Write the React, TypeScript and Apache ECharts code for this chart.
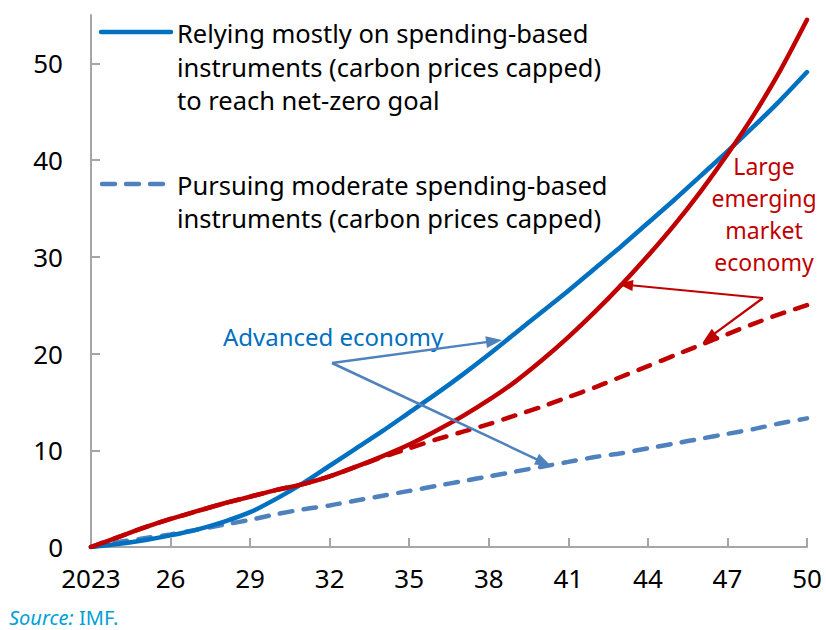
import React, { useEffect, useRef } from "react";
import * as echarts from "echarts";

const years = [
  "2023", "2024", "2025", "2026", "2027", "2028", "2029", "2030", "2031", "2032",
  "2033", "2034", "2035", "2036", "2037", "2038", "2039", "2040", "2041", "2042",
  "2043", "2044", "2045", "2046", "2047", "2048", "2049", "2050",
];

// Advanced economy – relying mostly on spending-based instruments
const aeMostly = [
  0, 0.3, 0.7, 1.2, 1.8, 2.6, 3.6, 5.0, 6.6, 8.4,
  10.2, 12.0, 13.9, 15.8, 17.8, 19.9, 22.1, 24.3, 26.5, 28.8,
  31.1, 33.5, 35.9, 38.4, 40.9, 43.5, 46.2, 49.1,
];
// Advanced economy – pursuing moderate spending-based instruments
const aeModerate = [
  0, 0.5, 0.9, 1.3, 1.8, 2.3, 2.8, 3.4, 3.9, 4.3,
  4.8, 5.3, 5.8, 6.3, 6.8, 7.3, 7.8, 8.3, 8.8, 9.3,
  9.7, 10.2, 10.7, 11.2, 11.7, 12.2, 12.8, 13.3,
];
// Large emerging market economy – relying mostly
const emMostly = [
  0, 1.0, 2.0, 2.9, 3.7, 4.5, 5.2, 5.9, 6.5, 7.3,
  8.3, 9.4, 10.6, 12.0, 13.5, 15.2, 17.1, 19.3, 21.7, 24.3,
  27.1, 30.1, 33.3, 36.8, 40.6, 44.7, 49.3, 54.5,
];
// Large emerging market economy – pursuing moderate
const emModerate = [
  0, 1.0, 2.0, 2.9, 3.7, 4.5, 5.2, 5.9, 6.5, 7.3,
  8.3, 9.3, 10.2, 11.1, 11.9, 12.7, 13.6, 14.5, 15.5, 16.5,
  17.6, 18.7, 19.8, 20.9, 22.0, 23.1, 24.1, 25.0,
];

const yTicks = [0, 10, 20, 30, 40, 50];

const legendMostly = [
  "Relying mostly on spending-based",
  "instruments (carbon prices capped)",
  "to reach net-zero goal",
];
const legendModerate = [
  "Pursuing moderate spending-based",
  "instruments (carbon prices capped)",
];
const emLabel = ["Large", "emerging", "market", "economy"];

const BLUE = "#0070C0";
const BLUE_D = "#4F81BD";
const RED = "#C00000";
const FONT = "'Noto Sans', 'Open Sans', sans-serif";

function arrow(x1: number, y1: number, x2: number, y2: number, color: string, width: number, headLen: number, headW: number) {
  const dx = x2 - x1;
  const dy = y2 - y1;
  const L = Math.hypot(dx, dy);
  const ux = dx / L;
  const uy = dy / L;
  const bx = x2 - ux * headLen;
  const by = y2 - uy * headLen;
  const px = -uy;
  const py = ux;
  return [
    { type: "line", silent: true, z: 100, shape: { x1, y1, x2: bx + ux * 2, y2: by + uy * 2 }, style: { stroke: color, lineWidth: width } },
    {
      type: "polygon",
      silent: true,
      z: 100,
      shape: {
        points: [
          [x2, y2],
          [bx + (px * headW) / 2, by + (py * headW) / 2],
          [bx - (px * headW) / 2, by - (py * headW) / 2],
        ],
      },
      style: { fill: color },
    },
  ];
}

export default function App() {
  const ref = useRef<HTMLDivElement>(null);
  useEffect(() => {
    if (!ref.current) return;
    const chart = echarts.init(ref.current, undefined, { renderer: "svg" });

    const graphics: any[] = [];
    // legend
    graphics.push({
      type: "line", silent: true, z: 100,
      shape: { x1: 101, y1: 32, x2: 171, y2: 32 },
      style: { stroke: BLUE, lineWidth: 4.5, lineCap: "round" },
    });
    legendMostly.forEach((t, i) => {
      graphics.push({
        type: "text", silent: true, z: 100,
        x: 177, y: 33 + i * 33.5,
        style: { text: t, fill: "#000", font: `25.5px ${FONT}`, textVerticalAlign: "middle" },
      });
    });
    graphics.push({
      type: "line", silent: true, z: 100,
      shape: { x1: 102, y1: 184, x2: 163, y2: 184 },
      style: { stroke: BLUE_D, lineWidth: 4.5, lineCap: "round", lineDash: [13, 11] },
    });
    legendModerate.forEach((t, i) => {
      graphics.push({
        type: "text", silent: true, z: 100,
        x: 177, y: 185 + i * 33,
        style: { text: t, fill: "#000", font: `25.5px ${FONT}`, textVerticalAlign: "middle" },
      });
    });
    // annotations
    graphics.push({
      type: "text", silent: true, z: 100,
      x: 333, y: 336,
      style: { text: "Advanced economy", fill: BLUE, font: `24px ${FONT}`, textAlign: "center", textVerticalAlign: "middle" },
    });
    graphics.push(...arrow(332, 363, 502, 340, BLUE_D, 2.5, 16, 12));
    graphics.push(...arrow(332, 363, 551, 466, BLUE_D, 2.5, 16, 12));
    emLabel.forEach((t, i) => {
      graphics.push({
        type: "text", silent: true, z: 100,
        x: 764, y: 166 + i * 32,
        style: { text: t, fill: RED, font: `23px ${FONT}`, textAlign: "center", textVerticalAlign: "middle" },
      });
    });
    graphics.push(...arrow(763, 298, 618, 284, RED, 2.2, 15, 11));
    graphics.push(...arrow(763, 298, 703, 342, RED, 2.2, 15, 11));
    // source
    graphics.push({
      type: "text", silent: true, z: 100,
      x: 9, y: 617,
      style: { text: "Source:", fill: "#00A0D6", font: `italic 20px ${FONT}`, textVerticalAlign: "middle" },
    });
    graphics.push({
      type: "text", silent: true, z: 100,
      x: 79, y: 617,
      style: { text: "IMF.", fill: "#00A0D6", font: `20px ${FONT}`, textVerticalAlign: "middle" },
    });

    const lineBase = { type: "line", showSymbol: false, symbol: "none", smooth: 0.25, clip: true };

    chart.setOption({
      animation: false,
      backgroundColor: "#fff",
      textStyle: { fontFamily: FONT },
      grid: { left: 91, right: 19, top: 15, bottom: 83, containLabel: false },
      xAxis: {
        type: "category",
        data: years,
        boundaryGap: false,
        axisLine: { lineStyle: { color: "#A6A6A6", width: 2 } },
        axisTick: { inside: true, length: 9, interval: 2, lineStyle: { color: "#A6A6A6", width: 2 } },
        axisLabel: {
          interval: 2,
          color: "#000",
          fontSize: 26,
          margin: 18,
          fontFamily: FONT,
          formatter: (v: string) => (v === "2023" ? v : v.slice(2)),
        },
        splitLine: { show: false },
      },
      yAxis: {
        type: "value",
        min: 0,
        max: 55,
        interval: 10,
        axisLine: { show: true, lineStyle: { color: "#A6A6A6", width: 2 } },
        axisTick: { show: true, inside: true, length: 9, customValues: yTicks, lineStyle: { color: "#A6A6A6", width: 2 } },
        axisLabel: { color: "#000", fontSize: 26, margin: 28, fontFamily: FONT, customValues: yTicks },
        splitLine: { show: false },
      },
      series: [
        { ...lineBase, name: "AE moderate", data: aeModerate, lineStyle: { color: BLUE_D, width: 4.5, type: [12.5, 11.5], cap: "round" }, z: 2 },
        { ...lineBase, name: "AE mostly", data: aeMostly, lineStyle: { color: BLUE, width: 4.5, cap: "round" }, z: 3 },
        { ...lineBase, name: "EM moderate", data: emModerate, lineStyle: { color: RED, width: 4.5, type: [12.5, 11.5], cap: "round" }, z: 4 },
        { ...lineBase, name: "EM mostly", data: emMostly, lineStyle: { color: RED, width: 4.5, cap: "round" }, z: 5 },
      ],
      graphic: graphics,
    });
    return () => chart.dispose();
  }, []);
  return <div ref={ref} style={{ width: 826, height: 630, position: "absolute", left: 0, top: 0 }} />;
}
